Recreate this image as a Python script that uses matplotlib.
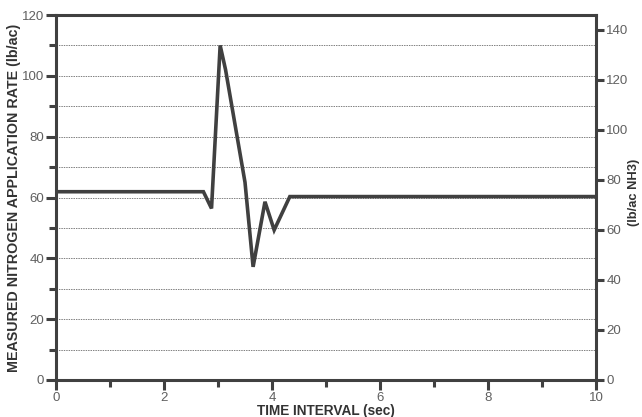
import matplotlib
matplotlib.use("Agg")
import matplotlib.pyplot as plt
from matplotlib.ticker import MultipleLocator

plt.rcParams['font.family'] = ['Liberation Sans', 'DejaVu Sans']

time_sec = [0.0, 2.73, 2.88, 3.04, 3.14, 3.50, 3.65, 3.87, 4.04, 4.33, 10.0]
rate_lb_ac = [61.9, 61.9, 56.4, 110.0, 102.0, 65.0, 37.2, 58.6, 49.3, 60.3, 60.3]

x_ticks = [0, 2, 4, 6, 8, 10]
left_ticks = [0, 20, 40, 60, 80, 100, 120]
right_ticks = [0, 20, 40, 60, 80, 100, 120, 140]
n_to_nh3 = 0.8224

x_label = "TIME INTERVAL (sec)"
left_label = "MEASURED NITROGEN APPLICATION RATE (lb/ac)"
right_label = "(lb/ac NH3)"

dark = '#404040'
tickc = '#606060'

fig = plt.figure(figsize=(6.42, 4.17), dpi=100)
ax = fig.add_axes([56/642, 37/417, 540/642, 365/417])

ax.plot(time_sec, rate_lb_ac, color=dark, lw=2.6, solid_joinstyle='miter', zorder=3)

ax.set_xlim(0, 10)
ax.set_ylim(0, 120)
ax.set_xticks(x_ticks)
ax.set_yticks(left_ticks)
ax.xaxis.set_minor_locator(MultipleLocator(1))
ax.yaxis.set_minor_locator(MultipleLocator(10))

for y in range(10, 120, 10):
    ax.axhline(y, color='#808080', lw=0.7, ls=(0, (1.5, 1.0)), zorder=1)

for s in ax.spines.values():
    s.set_color(dark)
    s.set_linewidth(2.2)

ax.tick_params(axis='both', which='major', length=7, width=2.2, color=dark,
               labelcolor=tickc, labelsize=9.5, pad=1.5)
ax.tick_params(axis='both', which='minor', length=5, width=2.2, color=dark)

ax.set_xlabel(x_label, fontsize=9.8, fontweight='bold', color='#333333', labelpad=0)
ax.set_ylabel(left_label, fontsize=10.3, fontweight='bold', color='#333333', labelpad=1)

ax2 = ax.twinx()
ax2.set_ylim(0, 120 / n_to_nh3)
ax2.set_yticks(right_ticks)
for s in ax2.spines.values():
    s.set_visible(False)
ax2.tick_params(axis='y', which='major', length=6, width=2.2, color=dark,
                labelcolor=tickc, labelsize=9.5, pad=1.5)
fig.text(634/642, 1 - 192/417, right_label, rotation=90, ha='center', va='center',
         fontsize=9.3, fontweight='bold', color='#333333')

fig.savefig("out.png", dpi=100)
